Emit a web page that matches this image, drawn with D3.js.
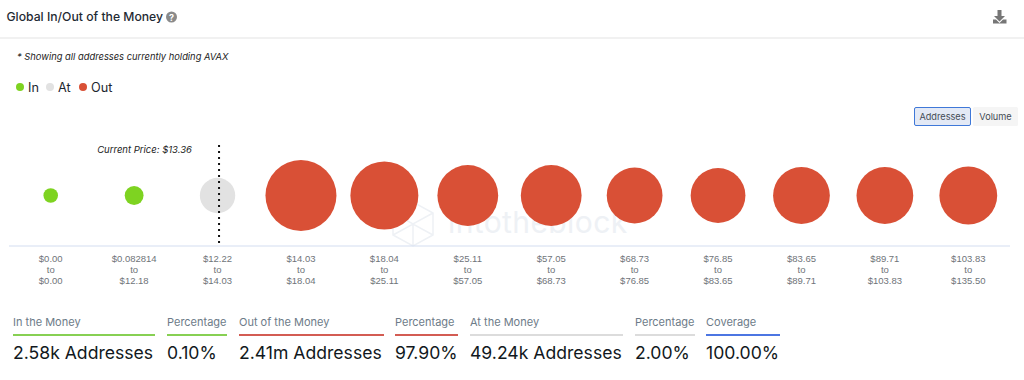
<!DOCTYPE html>
<html>
<head>
<meta charset="utf-8">
<script src="https://cdn.jsdelivr.net/npm/d3@7"></script>
<style>
  html, body { margin: 0; padding: 0; background: #fff; }
  svg { display: block; font-family: Inter, "Noto Sans", sans-serif; }
  .axis path, .axis line { display: none; }
  .axis text { font-size: 9.5px; fill: #6f7479; }
</style>
</head>
<body>
<div id="chart"></div>
<script>
// Bucket price ranges
const rangeFrom = ["$0.00", "$0.082814", "$12.22", "$14.03", "$18.04", "$25.11", "$57.05", "$68.73", "$76.85", "$83.65", "$89.71", "$103.83"]
const rangeTo = ["$0.00", "$12.18", "$14.03", "$18.04", "$25.11", "$57.05", "$68.73", "$76.85", "$83.65", "$89.71", "$103.83", "$135.50"]

// Addresses per bucket
const addresses = [30, 2550, 49240, 350000, 314000, 236000, 236000, 188000, 179000, 197000, 197000, 207000]
const status = ["In", "In", "At", "Out", "Out", "Out", "Out", "Out", "Out", "Out", "Out", "Out"]

const legendKeys = ["In", "At", "Out"]

const statLabels = ["In the Money", "Percentage", "Out of the Money", "Percentage", "At the Money", "Percentage", "Coverage"]
const statValues = ["2.58k Addresses", "0.10%", "2.41m Addresses", "97.90%", "49.24k Addresses", "2.00%", "100.00%"]
const statKinds = ["In", "In", "Out", "Out", "At", "At", "Cov"]

const width = 1024
const height = 380
const margin = { left: 9, right: 14, baseline: 246, centre: 195.5 }

const color = d3.scaleOrdinal().domain(legendKeys).range(["#7ed321", "#e2e2e2", "#d95036"])
const lineColor = d3.scaleOrdinal().domain(["In", "Out", "At", "Cov"]).range(["#5fc01a", "#c4261a", "#d0d0d0", "#1048d8"])

const svg = d3.select("#chart").append("svg").attr("width", width).attr("height", height)

// Header
svg.append("text").attr("x", 6.5).attr("y", 21).attr("font-size", 12.2).attr("font-weight", 500).attr("fill", "#1f2a33")
  .text("Global In/Out of the Money")

const help = svg.append("g").attr("transform", "translate(171.5,17)")
help.append("circle").attr("r", 5.5).attr("fill", "#8a8a8a")
help.append("text").attr("text-anchor", "middle").attr("y", 3.5).attr("font-size", 9).attr("font-weight", 700).attr("fill", "#fff").text("?")

svg.append("line").attr("x1", 0).attr("x2", width).attr("y1", 38).attr("y2", 38).attr("stroke", "#f1f1f1").attr("stroke-width", 2)

// Download icon
svg.append("path").attr("transform", "translate(993,10)").attr("fill", "#767676")
  .attr("d", "M4.5 0h4v6h3.5L6.5 11.5 1 6h3.5z M0 9.5h3l3.5 3.5 3.5-3.5h3.5V13h1v-0H0z M0 13.5h13.5V13H0z")

svg.append("text").attr("x", 17).attr("y", 60).attr("font-size", 9.35).attr("font-style", "italic").attr("fill", "#222")
  .text("* Showing all addresses currently holding AVAX")

// Legend
const legendX = d3.scaleOrdinal().domain(legendKeys).range([20, 50, 83])
const legend = svg.selectAll(".legend-item").data(legendKeys).enter().append("g")
  .attr("class", "legend-item")
  .attr("transform", (d) => `translate(${legendX(d)},87)`)
legend.append("circle").attr("r", 4).attr("fill", (d) => color(d))
legend.append("text").attr("x", 8).attr("y", 4.5).attr("font-size", 12.7).attr("fill", "#1c2630").text((d) => d)

// Addresses / Volume toggle
svg.append("rect").attr("x", 914.5).attr("y", 107.5).attr("width", 56).attr("height", 18).attr("rx", 1.5)
  .attr("fill", "#e3e9f5").attr("stroke", "#3f78d8")
svg.append("text").attr("x", 942.5).attr("y", 120).attr("text-anchor", "middle").attr("font-size", 9.2).attr("fill", "#444c55").text("Addresses")
svg.append("rect").attr("x", 973).attr("y", 107).attr("width", 45).attr("height", 19).attr("rx", 1.5).attr("fill", "#f5f5f5")
svg.append("text").attr("x", 995.5).attr("y", 120).attr("text-anchor", "middle").attr("font-size", 9.2).attr("fill", "#444c55").text("Volume")

// Watermark, sits under the bubbles
const mark = svg.append("g").attr("fill", "none").attr("stroke", "#eef1f5").attr("stroke-width", 1.5)
mark.append("path").attr("d", "M393 213l20-11 20 11v22l-20 11-20-11z M393 213l20 11 20-11 M413 224v22 M393 235l20-11 20 11")
svg.append("text").attr("x", 448).attr("y", 233).attr("font-size", 30).attr("letter-spacing", 0.4).attr("fill", "#eef1f5").text("intotheblock")

// Scales
const x = d3.scaleBand().domain(d3.range(addresses.length)).range([margin.left, width - margin.right]).padding(0)
const r = d3.scaleSqrt().domain([0, d3.max(addresses)]).range([7, 35.5])

// Baseline
svg.append("line").attr("x1", margin.left).attr("x2", width - margin.right).attr("y1", margin.baseline).attr("y2", margin.baseline)
  .attr("stroke", "#d3ddf0").attr("stroke-width", 1)

// Bubbles
svg.selectAll(".bubble").data(addresses).enter().append("circle")
  .attr("class", "bubble")
  .attr("cx", (d, i) => x(i) + x.bandwidth() / 2)
  .attr("cy", margin.centre)
  .attr("r", (d) => r(d))
  .attr("fill", (d, i) => color(status[i]))

// Current price marker, sits on the bucket holding the price
const priceX = x(2) + x.bandwidth() / 2 + 1.5
svg.append("line").attr("x1", priceX).attr("x2", priceX).attr("y1", 145).attr("y2", 246)
  .attr("stroke", "#111").attr("stroke-width", 2).attr("stroke-dasharray", "2 4")
svg.append("text").attr("x", 192).attr("y", 153).attr("text-anchor", "end").attr("font-size", 9.5).attr("font-style", "italic").attr("fill", "#222")
  .text("Current Price: $13.36")

// Axis with three line tick labels
const axis = svg.append("g").attr("class", "axis").attr("transform", `translate(0,${margin.baseline})`)
  .call(d3.axisBottom(x).tickSize(0).tickFormat(""))
axis.selectAll(".tick text").each(function (d) {
  const t = d3.select(this).attr("y", 0).attr("dy", null)
  const lines = [rangeFrom[d], "to", rangeTo[d]]
  lines.forEach((s, k) => {
    t.append("tspan").attr("x", 0).attr("y", 15.5 + k * 11).text(s)
  })
})

// Summary row
const statLeft = [13, 167, 239, 395, 470, 635, 706]
const statRight = [155, 227, 384, 458, 623, 695, 780]
const stats = svg.selectAll(".stat").data(statLabels).enter().append("g").attr("class", "stat")
stats.append("text").attr("x", (d, i) => statLeft[i]).attr("y", 326).attr("font-size", 11).attr("fill", "#6d7b88").text((d) => d)
stats.append("line").attr("x1", (d, i) => statLeft[i]).attr("x2", (d, i) => statRight[i]).attr("y1", 335).attr("y2", 335)
  .attr("stroke", (d, i) => lineColor(statKinds[i])).attr("stroke-width", 1.4)
stats.append("text").attr("x", (d, i) => statLeft[i]).attr("y", 359).attr("font-size", 17.6).attr("fill", "#111820")
  .text((d, i) => statValues[i])
</script>
</body>
</html>
